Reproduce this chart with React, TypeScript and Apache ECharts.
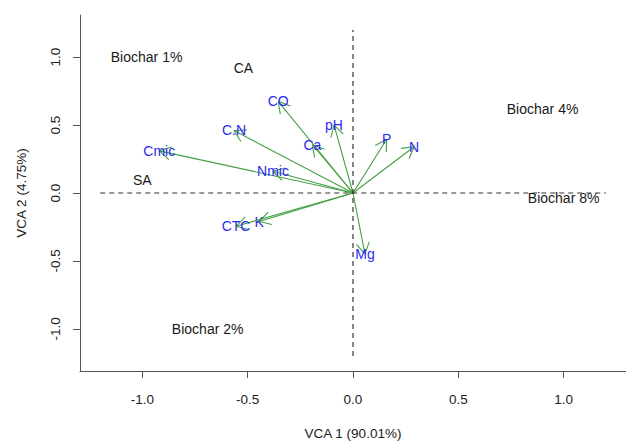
import React, { useEffect, useRef } from "react";
import * as echarts from "echarts";

// Variable vectors (VCA 1, VCA 2)
const varNames = ["CO", "C.N", "Cmic", "Nmic", "Ca", "pH", "P", "N", "Mg", "K", "CTC"];
const varVCA1 = [-0.355, -0.565, -0.92, -0.38, -0.193, -0.09, 0.16, 0.29, 0.057, -0.445, -0.555];
const varVCA2 = [0.675, 0.46, 0.31, 0.16, 0.355, 0.5, 0.395, 0.34, -0.45, -0.21, -0.245];

// Treatment / site labels
const siteNames = ["Biochar 1%", "CA", "Biochar 4%", "SA", "Biochar 8%", "Biochar 2%"];
const siteVCA1 = [-0.98, -0.52, 0.9, -1.0, 1.0, -0.69];
const siteVCA2 = [1.0, 0.92, 0.62, 0.095, -0.04, -1.0];

const tickValues = [-1.0, -0.5, 0.0, 0.5, 1.0];
const xMin = -1.296;
const xMax = 1.296;
const yMin = -1.31;
const yMax = 1.31;
const refLineExtent = [-1.2, 1.2];

const FONT = "'Liberation Sans', Arial, sans-serif";

export default function App() {
  const ref = useRef<HTMLDivElement>(null);
  useEffect(() => {
    if (!ref.current) return;
    const chart = echarts.init(ref.current, null, { renderer: "svg" });
    const arrowData = varNames.map((n, i) => [varVCA1[i], varVCA2[i], n]);
    const siteData = siteNames.map((n, i) => [siteVCA1[i], siteVCA2[i], n]);
    const axisCommon = {
      type: "value" as const,
      splitLine: { show: false },
      axisLine: { show: true, onZero: false, lineStyle: { color: "#555", width: 1 } },
      axisTick: { show: true, inside: false, length: 7, customValues: tickValues, lineStyle: { color: "#555" } },
      axisLabel: {
        customValues: tickValues,
        formatter: (v: number) => v.toFixed(1),
        color: "#222",
        fontSize: 13.5,
        fontFamily: FONT,
      },
      nameTextStyle: { color: "#222", fontSize: 13.5, fontFamily: FONT },
    };
    chart.setOption({
      animation: false,
      backgroundColor: "#fff",
      grid: { left: 80, right: 0, top: 15, bottom: 71, containLabel: false, outerBoundsMode: "none" },
      xAxis: {
        ...axisCommon,
        min: xMin,
        max: xMax,
        name: "VCA 1 (90.01%)",
        nameLocation: "middle",
        nameGap: 55,
        axisLabel: { ...axisCommon.axisLabel, margin: 21 },
      },
      yAxis: {
        ...axisCommon,
        min: yMin,
        max: yMax,
        name: "VCA 2 (4.75%)",
        nameLocation: "middle",
        nameGap: 52,
        axisLabel: { ...axisCommon.axisLabel, rotate: 90, margin: 18 },
      },
      series: [
        {
          type: "line",
          data: [[refLineExtent[0], 0], [refLineExtent[1], 0]],
          symbol: "none",
          lineStyle: { color: "#333", width: 1.2, type: [5, 4] },
          silent: true,
        },
        {
          type: "line",
          data: [[0, refLineExtent[0]], [0, refLineExtent[1]]],
          symbol: "none",
          lineStyle: { color: "#333", width: 1.2, type: [5, 4] },
          silent: true,
        },
        {
          type: "custom",
          data: arrowData,
          silent: true,
          renderItem: (params: any, api: any) => {
            const p0 = api.coord([0, 0]);
            const p1 = api.coord([api.value(0), api.value(1)]);
            const ang = Math.atan2(p1[1] - p0[1], p1[0] - p0[0]);
            const hl = 13;
            const ha = Math.PI / 6;
            const h1 = [p1[0] - hl * Math.cos(ang - ha), p1[1] - hl * Math.sin(ang - ha)];
            const h2 = [p1[0] - hl * Math.cos(ang + ha), p1[1] - hl * Math.sin(ang + ha)];
            const ls = { stroke: "#44a044", lineWidth: 1.1 };
            return {
              type: "group",
              children: [
                { type: "line", shape: { x1: p0[0], y1: p0[1], x2: p1[0], y2: p1[1] }, style: ls },
                { type: "line", shape: { x1: p1[0], y1: p1[1], x2: h1[0], y2: h1[1] }, style: ls },
                { type: "line", shape: { x1: p1[0], y1: p1[1], x2: h2[0], y2: h2[1] }, style: ls },
                {
                  type: "text",
                  x: p1[0],
                  y: p1[1],
                  style: {
                    text: String(api.value(2)),
                    fill: "#2b2bf0",
                    fontSize: 14,
                    fontFamily: FONT,
                    align: "center",
                    verticalAlign: "middle",
                  },
                },
              ],
            };
          },
        },
        {
          type: "custom",
          data: siteData,
          silent: true,
          renderItem: (params: any, api: any) => {
            const p = api.coord([api.value(0), api.value(1)]);
            return {
              type: "text",
              x: p[0],
              y: p[1],
              style: {
                text: String(api.value(2)),
                fill: "#1a1a1a",
                fontSize: 14,
                fontFamily: FONT,
                align: "center",
                verticalAlign: "middle",
              },
            };
          },
        },
      ],
    });
    return () => chart.dispose();
  }, []);
  return <div ref={ref} style={{ width: 626, height: 442, position: "absolute", left: 0, top: 0 }} />;
}
